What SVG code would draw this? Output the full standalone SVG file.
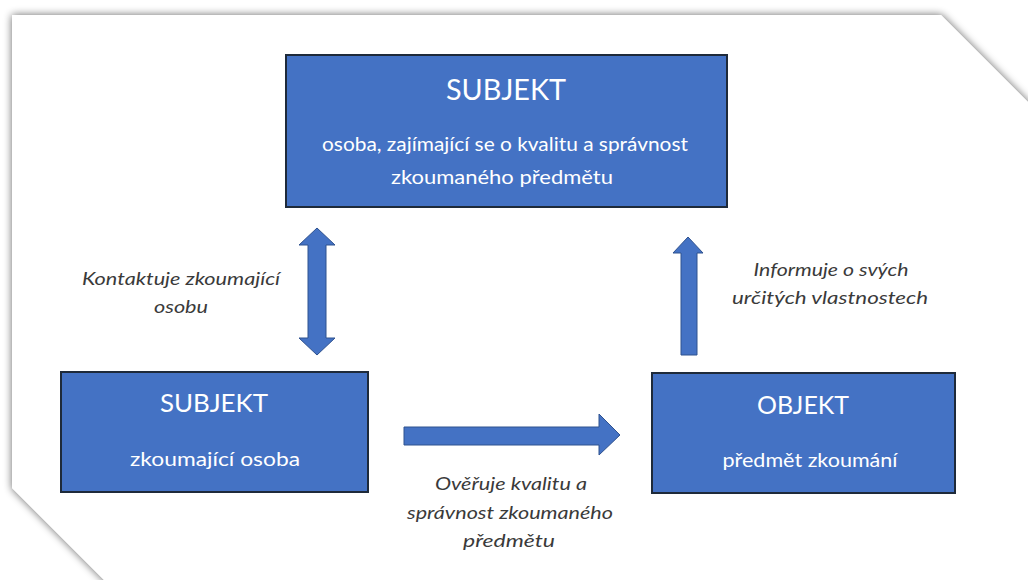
<svg xmlns="http://www.w3.org/2000/svg" width="1028" height="580" viewBox="0 0 1028 580">
  <defs>
    <filter id="pageShadow" x="-5%" y="-5%" width="110%" height="110%">
      <feGaussianBlur in="SourceAlpha" stdDeviation="4"/>
      <feOffset dx="0" dy="0" result="b"/>
      <feComponentTransfer><feFuncA type="linear" slope="0.6"/></feComponentTransfer>
      <feMerge><feMergeNode/><feMergeNode in="SourceGraphic"/></feMerge>
    </filter>
    <style>
      .box { fill: #4472C4; stroke: #1E2A3A; stroke-width: 2; }
      .arrow { fill: #4472C4; stroke: #2F528F; stroke-width: 1; }
      .title { font-family: Lato, "Open Sans", "Liberation Sans", sans-serif; fill: #FFFFFF; text-anchor: middle; }
      .body { font-family: Lato, "Open Sans", "Liberation Sans", sans-serif; fill: #FFFFFF; text-anchor: middle; }
      .label { font-family: Lato, "Open Sans", "Liberation Sans", sans-serif; font-style: italic; fill: #3A3A3A; text-anchor: middle; font-size: 17.5px; }
    </style>
  </defs>
  <rect x="0" y="0" width="1028" height="580" fill="#FFFFFF"/>
  <g id="page">
    <polygon points="12,15 941,15 1040,114 1040,600 124,600 12,488" fill="#FFFFFF" filter="url(#pageShadow)"/>
  </g>

  <g id="subjekt-top">
    <rect class="box" x="286" y="55" width="441" height="152"/>
    <text class="title" x="506" y="100" font-size="28" textLength="120" lengthAdjust="spacingAndGlyphs">SUBJEKT</text>
    <text class="body" x="505" y="151" font-size="19.5" textLength="366" lengthAdjust="spacingAndGlyphs">osoba, zajímající se o kvalitu a správnost</text>
    <text class="body" x="502" y="184" font-size="19.5" textLength="222" lengthAdjust="spacingAndGlyphs">zkoumaného předmětu</text>
  </g>

  <g id="subjekt-bottom">
    <rect class="box" x="61" y="372" width="307" height="120"/>
    <text class="title" x="214" y="412" font-size="25" textLength="108" lengthAdjust="spacingAndGlyphs">SUBJEKT</text>
    <text class="body" x="215" y="466" font-size="18.5" textLength="170" lengthAdjust="spacingAndGlyphs">zkoumající osoba</text>
  </g>

  <g id="objekt">
    <rect class="box" x="652" y="373" width="303" height="120"/>
    <text class="title" x="803" y="414" font-size="25" textLength="92" lengthAdjust="spacingAndGlyphs">OBJEKT</text>
    <text class="body" x="810" y="467" font-size="18.5" textLength="175" lengthAdjust="spacingAndGlyphs">předmět zkoumání</text>
  </g>

  <g id="connectors">
    <path class="arrow" d="M317,228 L335,245 L326,245 L326,338 L335,338 L317,355 L299,338 L308,338 L308,245 L299,245 Z"/>
    <path class="arrow" d="M688,237 L703,253 L697,253 L697,355 L681,355 L681,253 L673,253 Z"/>
    <path class="arrow" d="M404,427 L599,427 L599,414 L620,435 L599,455 L599,445 L404,445 Z"/>
  </g>

  <g id="labels">
    <text class="label" x="181" y="285" textLength="198" lengthAdjust="spacingAndGlyphs">Kontaktuje zkoumající</text>
    <text class="label" x="181" y="313" textLength="54" lengthAdjust="spacingAndGlyphs">osobu</text>
    <text class="label" x="831" y="276" textLength="155" lengthAdjust="spacingAndGlyphs">Informuje o svých</text>
    <text class="label" x="830" y="304" textLength="196" lengthAdjust="spacingAndGlyphs">určitých vlastnostech</text>
    <text class="label" x="511" y="490" textLength="152" lengthAdjust="spacingAndGlyphs">Ověřuje kvalitu a</text>
    <text class="label" x="510" y="519" textLength="206" lengthAdjust="spacingAndGlyphs">správnost zkoumaného</text>
    <text class="label" x="509" y="547" textLength="92" lengthAdjust="spacingAndGlyphs">předmětu</text>
  </g>
</svg>
